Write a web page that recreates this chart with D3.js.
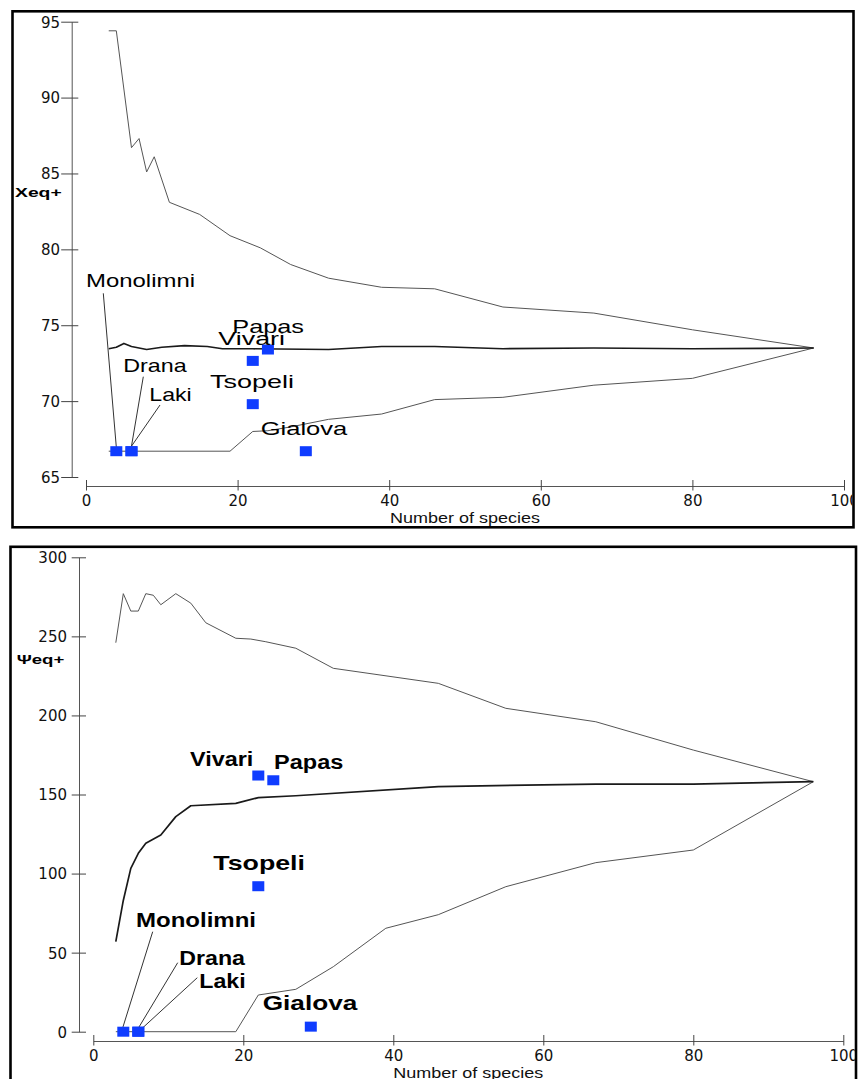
<!DOCTYPE html>
<html><head><meta charset="utf-8">
<script src="https://cdn.jsdelivr.net/npm/d3@7"></script>
<style>html,body{margin:0;padding:0;background:#fff;} svg{display:block;}</style>
</head><body>
<script>
// ---------------- DATA ----------------
const sites        = ["Monolimni","Drana","Laki","Tsopeli","Vivari","Papas","Gialova"];
const siteSpecies  = [4, 6, 6, 22, 22, 24, 29];
const siteXeq      = [66.7, 66.7, 66.7, 69.8, 72.65, 73.4, 66.7];
const sitePsi      = [0, 0, 0, 92, 162, 159, 3.2];

// Top panel (Xeq+): upper limit, mean, lower limit
const xeqUpperSpecies = [3,4,6,7,8,9,11,15,19,23,27,32,39,46,55,67,80,96];
const xeqUpper        = [94.4,94.4,86.7,87.3,85.1,86.1,83.1,82.3,80.9,80.1,79.0,78.1,77.5,77.4,76.2,75.8,74.7,73.5];
const xeqMeanSpecies  = [3,4,5,6,8,10,13,16,18,22,32,39,46,55,67,80,96];
const xeqMean         = [73.45,73.55,73.8,73.6,73.4,73.55,73.65,73.6,73.45,73.45,73.4,73.6,73.6,73.45,73.5,73.45,73.5];
const xeqLowerSpecies = [3,19,22,24,27,32,39,46,55,67,80,96];
const xeqLower        = [66.7,66.7,68.0,68.05,68.3,68.8,69.15,70.1,70.25,71.05,71.5,73.5];

// Bottom panel (Ψeq+)
const psiUpperSpecies = [3,4,5,6,7,8,9,11,13,15,19,21,23,27,32,46,55,67,80,96];
const psiUpper        = [246,277,266,266,277,276,270,277,271,258.6,248.8,248.3,246.6,242.5,229.8,220.3,204.5,196,178.1,158.1];
const psiMeanSpecies  = [3,4,5,6,7,9,11,13,19,22,27,46,67,80,96];
const psiMean         = [57,83,103.3,112.8,119.1,124.4,136,142.9,144.4,148,149.2,155,156.6,156.6,158.1];
const psiLowerSpecies = [3,19,22,27,32,39,46,55,67,80,96];
const psiLower        = [0,0,23.2,26.8,41.1,65.4,74,91.7,106.9,114.9,158.1];

const xTickValues   = [0,20,40,60,80,100];
const xeqTickValues = [65,70,75,80,85,90,95];
const psiTickValues = [0,50,100,150,200,250,300];
const xTitle = "Number of species";

// ---------------- LAYOUT ----------------
const W = 858, H = 1079;
const svg = d3.select("body").append("svg").attr("width", W).attr("height", H);
const defs = svg.append("defs");

const panels = [
  {
    id: "clipTop", frame: [12.5, 11.3, 853.5, 527.3], frameW: 2.6,
    xRange: [86, 844], yRange: [477, 21.7], yDomain: [65, 95],
    axisY: 486, axisX: 71.7, yTicks: xeqTickValues,
    yTickIn: 10.5, yTickOut: 6.6, yLabelX: -11.7,
    xTitleY: 523.3, yTitle: "Xeq+", yTitlePos: [15, 196.5, 46.7],
    upper: [xeqUpperSpecies, xeqUpper], mean: [xeqMeanSpecies, xeqMean], lower: [xeqLowerSpecies, xeqLower],
    values: siteXeq, labelWeight: "normal",
    labels: [ // x, baseline, textLength, fontSize
      [86, 286.7, 109, 19], [123.3, 372.3, 63.4, 19], [149.3, 401, 42.4, 19],
      [210, 388.3, 84, 19], [218.3, 345, 66.7, 19], [232.3, 333.3, 71.7, 19], [260.7, 435, 86.6, 19]
    ],
    connectors: [[103.3, 293.3, 0, -4], [143.3, 376.7, 0, -5], [160, 405, 0, -5]]
  },
  {
    id: "clipBot", frame: [10.5, 546.8, 856, 1100], frameW: 2.6,
    xRange: [93.3, 843.3], yRange: [1031.7, 557.3], yDomain: [0, 300],
    axisY: 1041, axisX: 79, yTicks: psiTickValues,
    yTickIn: 7.3, yTickOut: 7, yLabelX: -12,
    xTitleY: 1078.3, yTitle: "Ψeq+", yTitlePos: [16.7, 663.5, 47.6],
    upper: [psiUpperSpecies, psiUpper], mean: [psiMeanSpecies, psiMean], lower: [psiLowerSpecies, psiLower],
    values: sitePsi, labelWeight: "bold",
    labels: [
      [136, 926.7, 120, 20], [179.3, 965, 65.7, 20], [199.3, 988.3, 46.4, 20],
      [213.3, 870, 91.7, 21], [190, 766, 63.3, 20], [274, 769.3, 69.3, 20], [262.7, 1010, 94.6, 21]
    ],
    connectors: [[152.7, 931.7, -0.4, -4.5], [177.7, 962.7, 0, -3.5], [197.3, 977.7, 4, -3.5]]
  }
];

const markerW = 12, markerH = 10;
const markerColor = "#0f3cff";

panels.forEach(p => {
  const [fx0, fy0, fx1, fy1] = p.frame;
  defs.append("clipPath").attr("id", p.id).append("rect")
    .attr("x", fx0 + p.frameW / 2).attr("y", fy0 + p.frameW / 2)
    .attr("width", fx1 - fx0 - p.frameW).attr("height", fy1 - fy0 - p.frameW);

  const g = svg.append("g").attr("clip-path", `url(#${p.id})`);
  const x = d3.scaleLinear().domain([0, 100]).range(p.xRange);
  const y = d3.scaleLinear().domain(p.yDomain).range(p.yRange);

  // X axis
  const gx = g.append("g").attr("transform", `translate(0,${p.axisY})`)
    .call(d3.axisBottom(x).tickValues(xTickValues).tickSizeOuter(0));
  gx.select(".domain").attr("stroke", "#555").attr("stroke-width", 1);
  gx.selectAll(".tick line").attr("y1", -6).attr("y2", 4.5).attr("stroke", "#444");
  gx.selectAll(".tick text").attr("y", 19.5).attr("dy", null)
    .attr("font-family", "DejaVu Sans, sans-serif").attr("font-size", 15).attr("fill", "#111");
  gx.attr("font-family", null).attr("font-size", null);

  // Y axis
  const gy = g.append("g").attr("transform", `translate(${p.axisX},0)`)
    .call(d3.axisLeft(y).tickValues(p.yTicks).tickSizeOuter(0));
  gy.select(".domain").attr("stroke", "#555").attr("stroke-width", 1);
  gy.selectAll(".tick line").attr("x1", -p.yTickIn).attr("x2", p.yTickOut).attr("stroke", "#444");
  gy.selectAll(".tick text").attr("x", p.yLabelX).attr("dy", "0.36em")
    .attr("font-family", "DejaVu Sans, sans-serif").attr("font-size", 15).attr("fill", "#111");
  gy.attr("font-family", null).attr("font-size", null);

  // Axis titles
  g.append("text").attr("x", (p.xRange[0] + p.xRange[1]) / 2).attr("y", p.xTitleY)
    .attr("text-anchor", "middle").attr("font-family", "Liberation Sans, Arial, sans-serif")
    .attr("font-size", 15.5).attr("textLength", 150).attr("lengthAdjust", "spacingAndGlyphs")
    .attr("fill", "#111").text(xTitle);
  g.append("text").attr("x", p.yTitlePos[0]).attr("y", p.yTitlePos[1])
    .attr("font-family", "Liberation Sans, Arial, sans-serif").attr("font-weight", "bold")
    .attr("font-size", 12.5).attr("textLength", p.yTitlePos[2]).attr("lengthAdjust", "spacingAndGlyphs")
    .attr("fill", "#000").text(p.yTitle);

  // Curves
  const line = d3.line().x(d => x(d[0])).y(d => y(d[1]));
  const curve = (arr, color, w) => g.append("path").datum(d3.zip(arr[0], arr[1]))
    .attr("d", line).attr("fill", "none").attr("stroke", color).attr("stroke-width", w)
    .attr("stroke-linejoin", "round");
  curve(p.upper, "#555", 1);
  curve(p.lower, "#555", 1);
  curve(p.mean, "#1a1a1a", 1.7);

  // Connectors (from label anchor to marker)
  p.connectors.forEach((c, i) => {
    g.append("line").attr("x1", c[0]).attr("y1", c[1])
      .attr("x2", x(siteSpecies[i]) + c[2]).attr("y2", y(p.values[i]) + c[3])
      .attr("stroke", "#333").attr("stroke-width", 1);
  });

  // Markers
  g.selectAll("rect.site").data(sites).join("rect").attr("class", "site")
    .attr("x", (d, i) => x(siteSpecies[i]) - markerW / 2)
    .attr("y", (d, i) => y(p.values[i]) - markerH / 2)
    .attr("width", markerW).attr("height", markerH).attr("fill", markerColor);

  // Labels
  g.selectAll("text.site").data(sites).join("text").attr("class", "site")
    .attr("x", (d, i) => p.labels[i][0]).attr("y", (d, i) => p.labels[i][1])
    .attr("textLength", (d, i) => p.labels[i][2]).attr("lengthAdjust", "spacingAndGlyphs")
    .attr("font-size", (d, i) => p.labels[i][3])
    .attr("font-family", "Liberation Sans, Arial, sans-serif")
    .attr("font-weight", p.labelWeight).attr("fill", "#000").text(d => d);

  // Frame
  svg.append("rect").attr("x", fx0).attr("y", fy0).attr("width", fx1 - fx0).attr("height", fy1 - fy0)
    .attr("fill", "none").attr("stroke", "#000").attr("stroke-width", p.frameW);
});
</script>
</body></html>
